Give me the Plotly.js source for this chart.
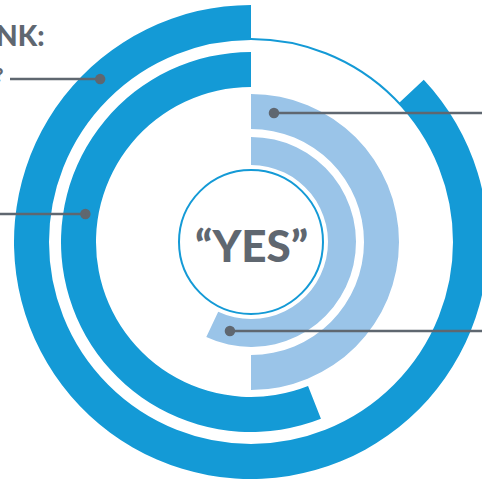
<!DOCTYPE html>
<html><head><meta charset="utf-8">
<script src="https://cdn.plot.ly/plotly-3.0.1.min.js"></script>
<style>html,body{margin:0;padding:0;overflow:hidden;background:#fff}#chart{width:502px;height:484px}</style>
</head><body><div id="chart"></div>
<script>
// ---- data ----
const ringNames = ['Outer ring', 'Second ring', 'Light outer ring', 'Light inner ring'];
const ringPercent = [87, 56, 50, 57];
const ringDirection = ['ccw', 'ccw', 'cw', 'cw'];
const centerLabel = '\u201cYES\u201d';
const headerText = 'THINK:';
const sideText = '?';

// ---- style / geometry ----
const W = 502, H = 484, CX = 251, CY = 242, RMAX = 242;
const ringInner = [203, 155, 113, 77];
const ringOuter = [237, 190, 148, 105];
const ringColors = ['#149ad6', '#149ad6', '#9ac4e8', '#9ac4e8'];
const gray = '#5f6770';
// leader dots (radius, angle clockwise from top) and line end x (px)
const dotR = [222, 168, 131, 91.5];
const dotTheta = [317.2, 279.6, 10.1, 193.3];
const lineEndX = [10, -5, 495, 495];

const spans = ringPercent.map(p => p * 3.6);
const centers = spans.map((s, i) => ringDirection[i] === 'ccw' ? 360 - s / 2 : s / 2);

const bars = {
  type: 'barpolar',
  r: ringOuter.map((o, i) => o - ringInner[i]),
  base: ringInner,
  theta: centers,
  width: spans,
  text: ringNames,
  marker: { color: ringColors, line: { width: 0 } },
  hoverinfo: 'skip'
};

const dots = {
  type: 'scatterpolar', mode: 'markers',
  r: dotR, theta: dotTheta,
  marker: { color: gray, size: 10.5 },
  hoverinfo: 'skip', cliponaxis: false
};

const shapes = dotR.map((r, i) => {
  const a = dotTheta[i] * Math.PI / 180;
  const x = CX + r * Math.sin(a), y = CY - r * Math.cos(a);
  return { type: 'line', xref: 'paper', yref: 'paper',
    x0: x / W, y0: 1 - y / H, x1: lineEndX[i] / W, y1: 1 - y / H,
    line: { color: gray, width: 2.5 }, layer: 'above' };
});

const layout = {
  width: W, height: H,
  margin: { l: 0, r: 0, t: 0, b: 0 },
  paper_bgcolor: '#fff', plot_bgcolor: '#fff',
  showlegend: false,
  polar: {
    domain: { x: [0, 1], y: [0, 1] },
    bgcolor: 'rgba(0,0,0,0)',
    radialaxis: { range: [0, RMAX], showline: false, ticks: '', showticklabels: false,
      tickvals: [72, 203], showgrid: true, gridcolor: '#149ad6', gridwidth: 2 },
    angularaxis: { direction: 'clockwise', rotation: 90, showline: false, ticks: '',
      showticklabels: false, showgrid: false }
  },
  shapes: shapes,
  annotations: [
    { text: centerLabel, xref: 'paper', yref: 'paper', x: CX / W, y: 1 - 245 / H,
      xanchor: 'center', yanchor: 'middle', showarrow: false,
      font: { family: 'Lato', size: 44, color: gray, weight: 900 } },
    { text: headerText, xref: 'paper', yref: 'paper', x: 46 / W, y: 1 - 35 / H,
      xanchor: 'right', yanchor: 'middle', showarrow: false,
      font: { family: 'Lato', size: 28, color: gray, weight: 900 } },
    { text: sideText, xref: 'paper', yref: 'paper', x: 5 / W, y: 1 - 75 / H,
      xanchor: 'right', yanchor: 'middle', showarrow: false,
      font: { family: 'Lato', size: 18, color: gray, weight: 900 } }
  ]
};

Plotly.newPlot('chart', [bars, dots], layout, { staticPlot: true, displayModeBar: false });
</script></body></html>
